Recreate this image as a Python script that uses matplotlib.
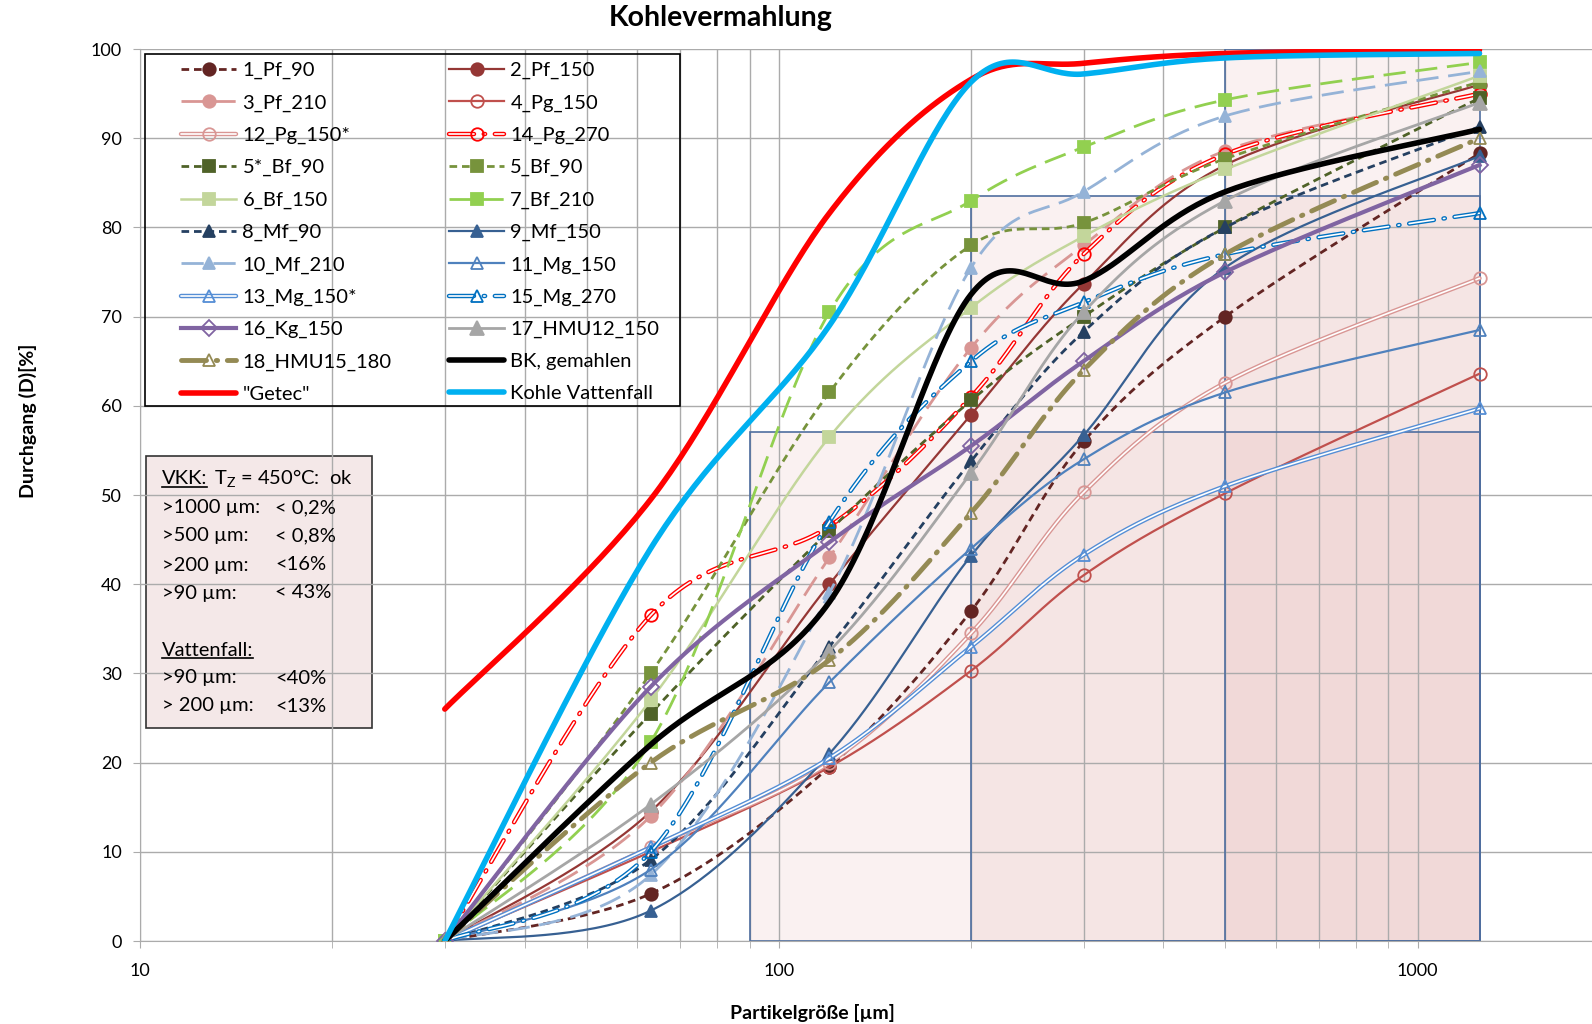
import numpy as np
import matplotlib
matplotlib.use("Agg")
import matplotlib.pyplot as plt
from matplotlib.lines import Line2D
from matplotlib.patches import Rectangle
from matplotlib.ticker import NullFormatter

plt.rcParams['font.family'] = ['Lato', 'DejaVu Sans']
plt.rcParams['mathtext.fontset'] = 'custom'
plt.rcParams['mathtext.rm'] = 'Lato'
plt.rcParams['lines.scale_dashes'] = False

# sieve sizes [µm] and passing [%]
sieve = [30, 63, 120, 200, 300, 500, 1250]

pf_90 = [0, 5.3, 19.5, 37.0, 56.0, 70.0, 88.3]
pf_150 = [0, 14.5, 40.0, 59.0, 73.7, 87.0, 96.0]
pf_210 = [0, 14.0, 43.0, 66.5, 78.0, 88.6, 95.0]
pg_150 = [0, 10.0, 19.5, 30.3, 41.0, 50.2, 63.6]
pg_150s = [0, 10.5, 20.0, 34.5, 50.3, 62.6, 74.3]
pg_270 = [0, 36.5, 46.5, 61.0, 77.0, 88.2, 95.0]
bf_90s = [0, 25.5, 46.0, 60.6, 70.0, 80.0, 94.5]
bf_90 = [0, 30.0, 61.5, 78.0, 80.5, 87.7, 96.3]
bf_150 = [0, 27.0, 56.5, 71.0, 79.0, 86.5, 97.0]
bf_210 = [0, 22.3, 70.5, 83.0, 89.0, 94.3, 98.5]
mf_90 = [0, 9.1, 33.0, 53.8, 68.3, 80.0, 91.3]
mf_150 = [0, 3.4, 21.0, 43.2, 56.7, 75.5, 88.0]
mf_210 = [0, 7.4, 39.0, 75.5, 84.0, 92.5, 97.5]
mg_150 = [0, 8.0, 29.0, 44.0, 54.0, 61.5, 68.5]
mg_150s = [0, 10.5, 20.5, 33.0, 43.3, 51.0, 59.7]
mg_270 = [0, 10.0, 47.0, 65.0, 71.6, 77.0, 81.6]
kg_150 = [0, 28.5, 44.7, 55.5, 65.0, 75.0, 87.0]
hmu12_150 = [0, 15.3, 32.5, 52.5, 70.5, 83.0, 94.0]
hmu15_180 = [0, 20.0, 31.5, 48.0, 64.0, 77.0, 90.0]
bk = [0, 22.0, 38.0, 72.5, 74.0, 84.0, 91.0]
getec = [26.0, 49.5, 81.6, 96.6, 98.4, 99.5, 99.9]
vattenfall = [0, 44.0, 69.0, 96.3, 97.2, 99.0, 99.5]

# shaded limit zones
zone_x0 = [90, 200, 500]
zone_x1 = 1250
zone_top = [57.1, 83.5, 100]

vkk_labels = [">1000 µm:", ">500 µm:", ">200 µm:", ">90 µm:"]
vkk_values = ["< 0,2%", "< 0,8%", "<16%", "< 43%"]
vf_labels = [">90 µm:", "> 200 µm:"]
vf_values = ["<40%", "<13%"]

W, H = 1592, 1024
fig = plt.figure(figsize=(W / 100, H / 100), dpi=100)
ax = fig.add_axes([140 / W, 83 / H, (W - 140) / W, 892 / H])
ax.set_xscale('log')
ax.set_xlim(10, 1875)
ax.set_ylim(0, 100)

# pixel scale used for Excel-like smoothing
PX_DEC = 638.7
PX_Y = 8.92


def smooth(xs, ys, n=40):
    u = (np.log10(xs) - 1) * PX_DEC
    v = np.asarray(ys, float) * PX_Y
    P = np.column_stack([u, v])
    out = [P[0]]
    t = np.linspace(0, 1, n)[1:, None]
    for i in range(len(P) - 1):
        p0 = P[i - 1] if i > 0 else P[i]
        p1 = P[i]
        p2 = P[i + 1]
        p3 = P[i + 2] if i + 2 < len(P) else P[i + 1]
        c1 = p1 + (p2 - p0) / 6
        c2 = p2 - (p3 - p1) / 6
        seg = (1 - t)**3 * p1 + 3 * (1 - t)**2 * t * c1 + 3 * (1 - t) * t**2 * c2 + t**3 * p2
        out.extend(seg)
    out = np.array(out)
    return 10 ** (out[:, 0] / PX_DEC + 1), out[:, 1] / PX_Y


DASH = (0, (5.5, 3.5))
LONG = (0, (16, 7))
DDOT = (0, (18, 7, 1, 7))

# name, values, color, linestyle, lw, marker, ms, filled, double
series = [
    ("1_Pf_90", pf_90, '#632523', DASH, 2.0, 'o', 9, True, False),
    ("2_Pf_150", pf_150, '#953735', '-', 1.6, 'o', 9, True, False),
    ("3_Pf_210", pf_210, '#D99694', LONG, 2.0, 'o', 9, True, False),
    ("4_Pg_150", pg_150, '#C0504D', '-', 1.6, 'o', 9, False, False),
    ("12_Pg_150*", pg_150s, '#D99694', '-', 3.2, 'o', 9, False, True),
    ("14_Pg_270", pg_270, '#FF0000', DDOT, 3.2, 'o', 9, False, True),
    ("5*_Bf_90", bf_90s, '#4F6228', DASH, 2.0, 's', 8, True, False),
    ("5_Bf_90", bf_90, '#77933C', DASH, 2.0, 's', 8, True, False),
    ("6_Bf_150", bf_150, '#C3D69B', '-', 1.8, 's', 8, True, False),
    ("7_Bf_210", bf_210, '#92D050', LONG, 2.0, 's', 8, True, False),
    ("8_Mf_90", mf_90, '#254061', DASH, 2.0, '^', 9, True, False),
    ("9_Mf_150", mf_150, '#376092', '-', 1.6, '^', 9, True, False),
    ("10_Mf_210", mf_210, '#95B3D7', LONG, 2.0, '^', 9, True, False),
    ("11_Mg_150", mg_150, '#4F81BD', '-', 1.6, '^', 9, False, False),
    ("13_Mg_150*", mg_150s, '#558ED5', '-', 3.2, '^', 9, False, True),
    ("15_Mg_270", mg_270, '#0070C0', DDOT, 3.2, '^', 9, False, True),
    ("16_Kg_150", kg_150, '#8064A2', '-', 3.0, 'D', 8, False, False),
    ("17_HMU12_150", hmu12_150, '#A6A6A6', '-', 2.0, '^', 10, True, False),
    ("18_HMU15_180", hmu15_180, '#948A54', DDOT, 3.5, '^', 9, False, False),
    ("BK, gemahlen", bk, '#000000', '-', 4.0, None, 0, True, False),
    ('"Getec"', getec, '#FF0000', '-', 4.0, None, 0, True, False),
    ("Kohle Vattenfall", vattenfall, '#00B0F0', '-', 4.0, None, 0, True, False),
]

handles = []
labels = []
for k, (name, vals, col, ls, lw, mk, ms, filled, double) in enumerate(series):
    z = 2 + k * 0.1
    sx, sy = smooth(sieve, vals)
    caps = dict(dash_capstyle='round', solid_capstyle='round') if (double or lw >= 3.5) else {}
    ax.plot(sx, sy, color=col, lw=lw, ls=ls, zorder=z, **caps)
    h = [Line2D([], [], color=col, lw=lw, ls=ls, **caps)]
    if double:
        ax.plot(sx, sy, color='white', lw=lw * 0.38, ls=ls, zorder=z + 0.01, **caps)
        h.append(Line2D([], [], color='white', lw=lw * 0.38, ls=ls, **caps))
    if mk:
        mfc = col if filled else 'none'
        ax.plot(sieve, vals, ls='none', marker=mk, ms=ms, mfc=mfc, mec=col, mew=1.3, zorder=z + 0.02)
        h.append(Line2D([], [], ls='none', marker=mk, ms=ms, mfc=mfc, mec=col, mew=1.3))
    handles.append(tuple(h) if len(h) > 1 else h[0])
    labels.append(name)

# limit zones
for x0, top in zip(zone_x0, zone_top):
    ax.add_patch(Rectangle((x0, 0), zone_x1 - x0, top, facecolor='#C0504D', alpha=0.075,
                           edgecolor='none', zorder=0.2))
    ax.add_patch(Rectangle((x0, 0), zone_x1 - x0, top, fill=False, edgecolor='#4F6E9F',
                           lw=1.2, zorder=1.6))

# axes styling
ax.set_axisbelow(True)
ax.grid(True, which='both', axis='x', color='#ABABAB', lw=1.0)
ax.grid(True, which='major', axis='y', color='#ABABAB', lw=1.0)
ax.set_xticks([10, 100, 1000])
ax.set_xticklabels(['10', '100', '1000'])
ax.xaxis.set_minor_formatter(NullFormatter())
ax.set_yticks(range(0, 101, 10))
ax.tick_params(axis='both', which='both', length=5, color='#ABABAB', labelsize=13)
ax.tick_params(axis='y', pad=8)
ax.tick_params(axis='x', pad=11)
for s in ['top', 'right']:
    ax.spines[s].set_visible(False)
for s in ['left', 'bottom']:
    ax.spines[s].set_color('#ABABAB')


def px2ax(px, py):
    return ((px - 140) / (W - 140), (941 - py) / 892)


# legend with a separate frame
lx0, ly0 = px2ax(145, 406)
lx1, ly1 = px2ax(680, 54)
ax.add_patch(Rectangle((lx0, ly0), lx1 - lx0, ly1 - ly0, transform=ax.transAxes,
                       fill=False, edgecolor='black', lw=1.2, zorder=6))
order = list(range(0, len(handles), 2)) + list(range(1, len(handles), 2))
leg = ax.legend([handles[i] for i in order], [labels[i] for i in order], ncol=2,
                loc='upper left', bbox_to_anchor=px2ax(181, 62), frameon=False,
                borderpad=0, borderaxespad=0, handlelength=2.75, handletextpad=0.3,
                columnspacing=2.85, labelspacing=0.745, fontsize=14.5)
leg.set_zorder(7)

# VKK info box
bx0, by0 = px2ax(146, 728)
bx1, by1 = px2ax(372, 456)
ax.add_patch(Rectangle((bx0, by0), bx1 - bx0, by1 - by0, transform=ax.transAxes,
                       facecolor='#F4E8E8', edgecolor='#333333', lw=1.2, zorder=0.3))
tkw = dict(transform=ax.transAxes, fontsize=14.5, va='center', ha='left', zorder=8)
t_vkk = ax.text(*px2ax(162, 479), "VKK:", **tkw)
ax.text(*px2ax(214, 479), r"T$_\mathregular{Z}$ = 450°C:  ok", **tkw)
ys = [508, 536, 565, 593]
for lab, val, yy in zip(vkk_labels, vkk_values, ys):
    ax.text(*px2ax(162, yy), lab, **tkw)
    ax.text(*px2ax(275, yy), val, **tkw)
t_vf = ax.text(*px2ax(162, 650), "Vattenfall:", **tkw)
for lab, val, yy in zip(vf_labels, vf_values, [678, 706]):
    ax.text(*px2ax(162, yy), lab, **tkw)
    ax.text(*px2ax(275, yy), val, **tkw)

fig.text(721 / W, 1 - 18 / H, "Kohlevermahlung", fontsize=20.5, fontweight='bold',
         ha='center', va='center')
fig.text(812 / W, 1 - 1013 / H, "Partikelgröße [µm]", fontsize=14, fontweight='bold',
         ha='center', va='center')
fig.text(28 / W, 1 - 421 / H, "Durchgang (D)[%]", fontsize=14, fontweight='bold',
         ha='center', va='center', rotation=90)

# underline the two headings
fig.canvas.draw()
r = fig.canvas.get_renderer()
inv = fig.transFigure.inverted()
for t in (t_vkk, t_vf):
    bb = t.get_window_extent(r)
    (x0, y0), (x1, _) = inv.transform([(bb.x0, bb.y0 + 1), (bb.x1, bb.y0 + 1)])
    fig.add_artist(Line2D([x0, x1], [y0, y0], color='black', lw=1.2))

fig.savefig("out.png", dpi=100)
